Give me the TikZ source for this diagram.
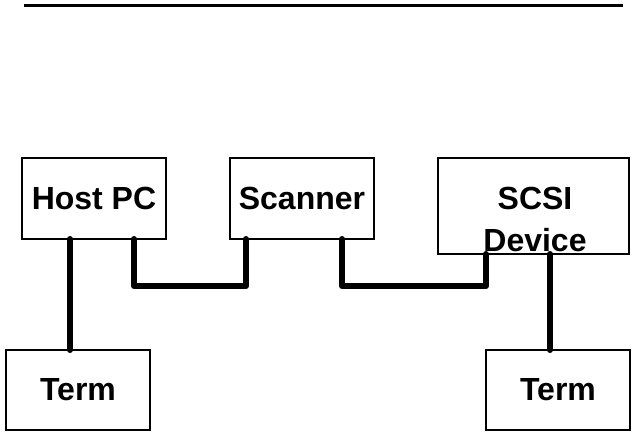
\documentclass[tikz,border=0pt]{standalone}
\usepackage{fontspec}
\setmainfont{Liberation Sans}
\usepackage{tikz}
\usetikzlibrary{positioning,calc}

\begin{document}
\begin{tikzpicture}[
    x=1pt, y=1pt,
    block/.style={rectangle, draw=black, line width=1.6pt, minimum width=144pt, minimum height=81pt, inner sep=0pt, outer sep=0pt, font=\fontsize{32}{42}\selectfont\bfseries, align=center},
    link/.style={line width=6pt, line cap=round, line join=round},
    rule/.style={line width=3.5pt}
]
\useasboundingbox (0,0) rectangle (633,-434);

% Top rule
\coordinate (ruleL) at (24,-5.5);
\coordinate (ruleR) at (623,-5.5);
\draw[rule] (ruleL) -- (ruleR);

% Bus devices
\node[block] (host) at (94,-198.5) {Host PC};
\node[block, right=64pt of host] (scanner) {Scanner};
\node[block, minimum width=191pt, minimum height=96pt, anchor=north west] (scsi) at ([xshift=64pt]scanner.north east) {};
\node[font=\fontsize{32}{42}\selectfont\bfseries, align=center, inner sep=0pt] (scsitext) at (535,-219) {SCSI\\Device};

% Terminators
\node[block, minimum height=80pt] (termL) at (78,-390) {Term};
\node[block, minimum height=80pt] (termR) at (558,-390) {Term};

% Links
\draw[link] ([xshift=48pt]host.south west) -- ([xshift=64pt]termL.north west);
\draw[link] ([xshift=112pt]host.south west) -- ++(0,-47) -| ([xshift=16pt]scanner.south west);
\draw[link] ([xshift=112pt]scanner.south west) -- ++(0,-47) -| ([xshift=48pt]scsi.south west);
\draw[link] ([xshift=112pt]scsi.south west) -- ([xshift=64pt]termR.north west);

\end{tikzpicture}
\end{document}
